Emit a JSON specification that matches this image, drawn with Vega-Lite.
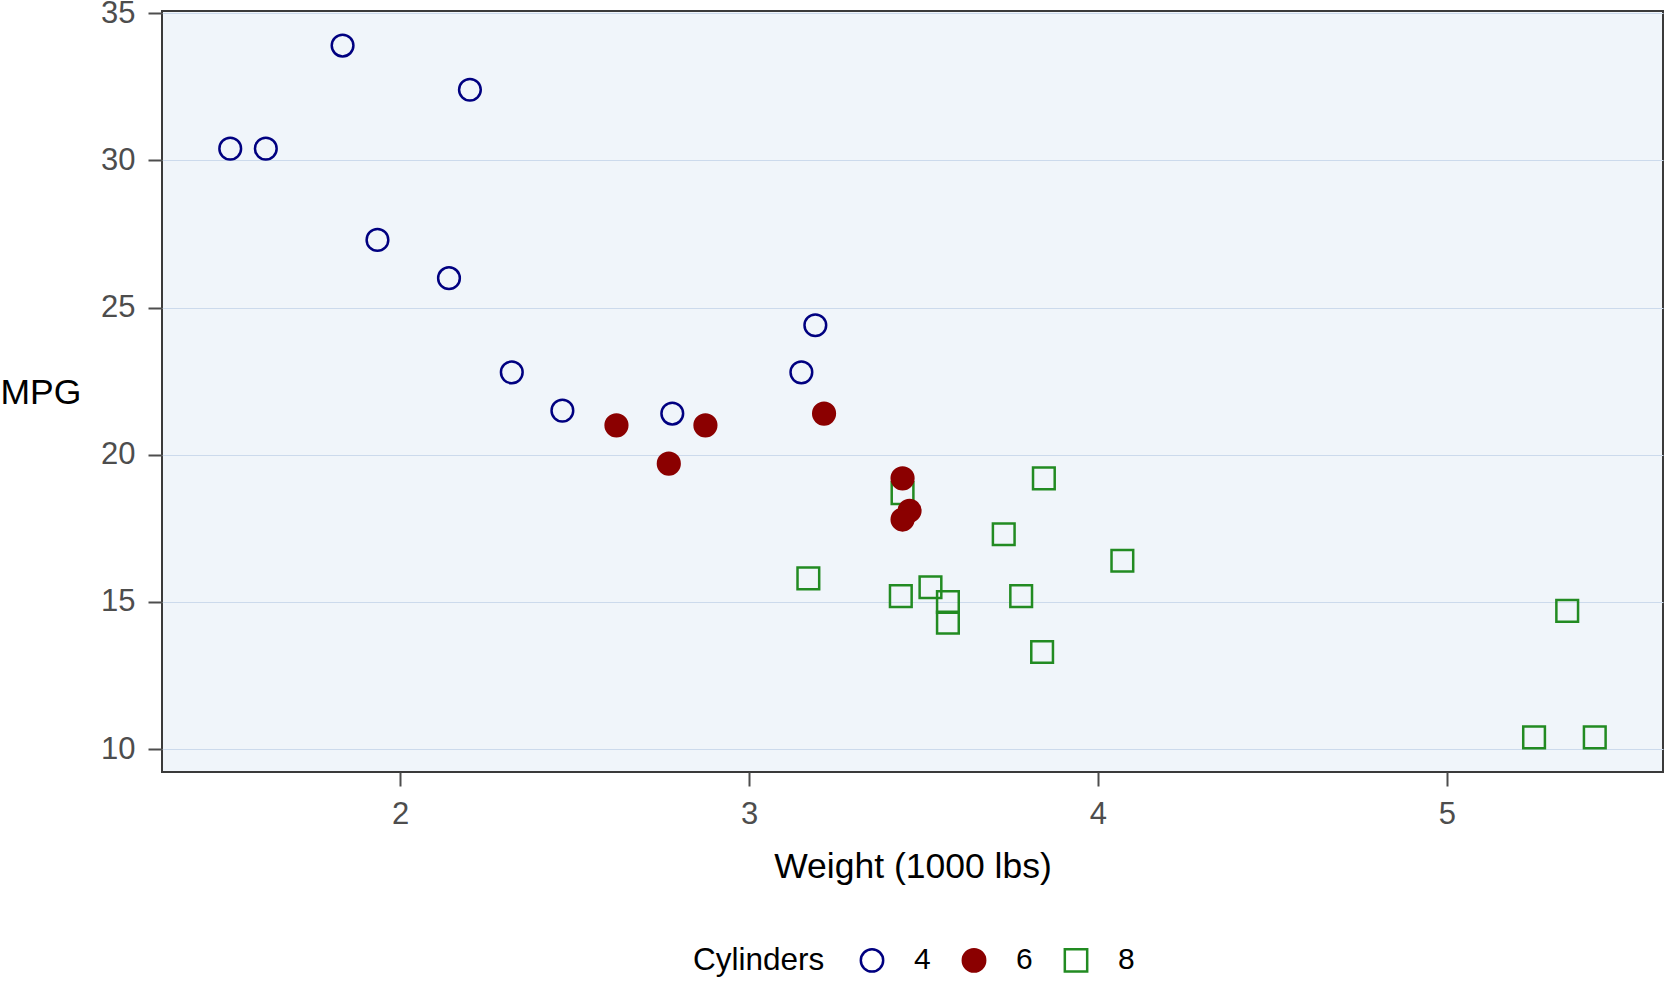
{
  "$schema": "https://vega.github.io/schema/vega-lite/v6.json",
  "autosize": "none",
  "width": 1501,
  "height": 761,
  "padding": {"left": 162, "top": 11, "right": 2, "bottom": 213},
  "background": "white",
  "data": {
    "values": [
      {"car": "Mazda RX4", "wt": 2.62, "mpg": 21.0, "cyl": "6"},
      {"car": "Mazda RX4 Wag", "wt": 2.875, "mpg": 21.0, "cyl": "6"},
      {"car": "Datsun 710", "wt": 2.32, "mpg": 22.8, "cyl": "4"},
      {"car": "Hornet 4 Drive", "wt": 3.215, "mpg": 21.4, "cyl": "6"},
      {"car": "Hornet Sportabout", "wt": 3.44, "mpg": 18.7, "cyl": "8"},
      {"car": "Valiant", "wt": 3.46, "mpg": 18.1, "cyl": "6"},
      {"car": "Duster 360", "wt": 3.57, "mpg": 14.3, "cyl": "8"},
      {"car": "Merc 240D", "wt": 3.19, "mpg": 24.4, "cyl": "4"},
      {"car": "Merc 230", "wt": 3.15, "mpg": 22.8, "cyl": "4"},
      {"car": "Merc 280", "wt": 3.44, "mpg": 19.2, "cyl": "6"},
      {"car": "Merc 280C", "wt": 3.44, "mpg": 17.8, "cyl": "6"},
      {"car": "Merc 450SE", "wt": 4.07, "mpg": 16.4, "cyl": "8"},
      {"car": "Merc 450SL", "wt": 3.73, "mpg": 17.3, "cyl": "8"},
      {"car": "Merc 450SLC", "wt": 3.78, "mpg": 15.2, "cyl": "8"},
      {"car": "Cadillac Fleetwood", "wt": 5.25, "mpg": 10.4, "cyl": "8"},
      {"car": "Lincoln Continental", "wt": 5.424, "mpg": 10.4, "cyl": "8"},
      {"car": "Chrysler Imperial", "wt": 5.345, "mpg": 14.7, "cyl": "8"},
      {"car": "Fiat 128", "wt": 2.2, "mpg": 32.4, "cyl": "4"},
      {"car": "Honda Civic", "wt": 1.615, "mpg": 30.4, "cyl": "4"},
      {"car": "Toyota Corolla", "wt": 1.835, "mpg": 33.9, "cyl": "4"},
      {"car": "Toyota Corona", "wt": 2.465, "mpg": 21.5, "cyl": "4"},
      {"car": "Dodge Challenger", "wt": 3.52, "mpg": 15.5, "cyl": "8"},
      {"car": "AMC Javelin", "wt": 3.435, "mpg": 15.2, "cyl": "8"},
      {"car": "Camaro Z28", "wt": 3.84, "mpg": 13.3, "cyl": "8"},
      {"car": "Pontiac Firebird", "wt": 3.845, "mpg": 19.2, "cyl": "8"},
      {"car": "Fiat X1-9", "wt": 1.935, "mpg": 27.3, "cyl": "4"},
      {"car": "Porsche 914-2", "wt": 2.14, "mpg": 26.0, "cyl": "4"},
      {"car": "Lotus Europa", "wt": 1.513, "mpg": 30.4, "cyl": "4"},
      {"car": "Ford Pantera L", "wt": 3.17, "mpg": 15.8, "cyl": "8"},
      {"car": "Ferrari Dino", "wt": 2.77, "mpg": 19.7, "cyl": "6"},
      {"car": "Maserati Bora", "wt": 3.57, "mpg": 15.0, "cyl": "8"},
      {"car": "Volvo 142E", "wt": 2.78, "mpg": 21.4, "cyl": "4"}
    ]
  },
  "mark": {"type": "point", "size": 470, "strokeWidth": 2.5, "opacity": 1},
  "encoding": {
    "x": {
      "field": "wt",
      "type": "quantitative",
      "title": "Weight (1000 lbs)",
      "scale": {"domain": [1.31745, 5.61955], "nice": false, "zero": false},
      "axis": {
        "values": [2, 3, 4, 5],
        "grid": false,
        "titleY": 94,
        "titleBaseline": "middle"
      }
    },
    "y": {
      "field": "mpg",
      "type": "quantitative",
      "title": "MPG",
      "scale": {"domain": [9.225, 35.075], "nice": false, "zero": false},
      "axis": {
        "values": [10, 15, 20, 25, 30, 35],
        "grid": true,
        "titleAngle": 0,
        "titleAlign": "left",
        "titleBaseline": "middle",
        "titleX": -162,
        "titleY": 381
      }
    },
    "stroke": {
      "field": "cyl",
      "type": "nominal",
      "title": "Cylinders",
      "scale": {"domain": ["4", "6", "8"], "range": ["#000080", "#8B0000", "#228B22"]}
    },
    "fill": {
      "field": "cyl",
      "type": "nominal",
      "title": "Cylinders",
      "scale": {"domain": ["4", "6", "8"], "range": ["rgba(0,0,0,0)", "#8B0000", "rgba(0,0,0,0)"]}
    },
    "shape": {
      "field": "cyl",
      "type": "nominal",
      "title": "Cylinders",
      "scale": {"domain": ["4", "6", "8"], "range": ["circle", "circle", "square"]}
    }
  },
  "config": {
    "font": "Liberation Sans",
    "view": {"fill": "#F0F5FA", "stroke": "#3a3a3a", "strokeWidth": 2},
    "axis": {
      "domain": false,
      "tickSize": 14,
      "tickWidth": 2,
      "tickColor": "#4d4d4d",
      "labelPadding": 13,
      "labelFont": "Liberation Sans",
      "labelFontSize": 31,
      "labelColor": "#4d4d4d",
      "titleFont": "Liberation Sans",
      "titleFontSize": 35.5,
      "titleFontWeight": "normal",
      "titleColor": "#000000",
      "gridColor": "#CCDAEC",
      "gridWidth": 1
    },
    "legend": {
      "orient": "none",
      "legendX": 531,
      "legendY": 934,
      "direction": "horizontal",
      "titleOrient": "left",
      "titleFont": "Liberation Sans",
      "titleFontSize": 31.5,
      "titleFontWeight": "normal",
      "titleColor": "#000000",
      "titlePadding": 32,
      "labelFont": "Liberation Sans",
      "labelFontSize": 30,
      "labelColor": "#000000",
      "labelOffset": 27,
      "columnPadding": 26,
      "symbolSize": 500,
      "symbolStrokeWidth": 2.5,
      "symbolOpacity": 1
    }
  }
}
